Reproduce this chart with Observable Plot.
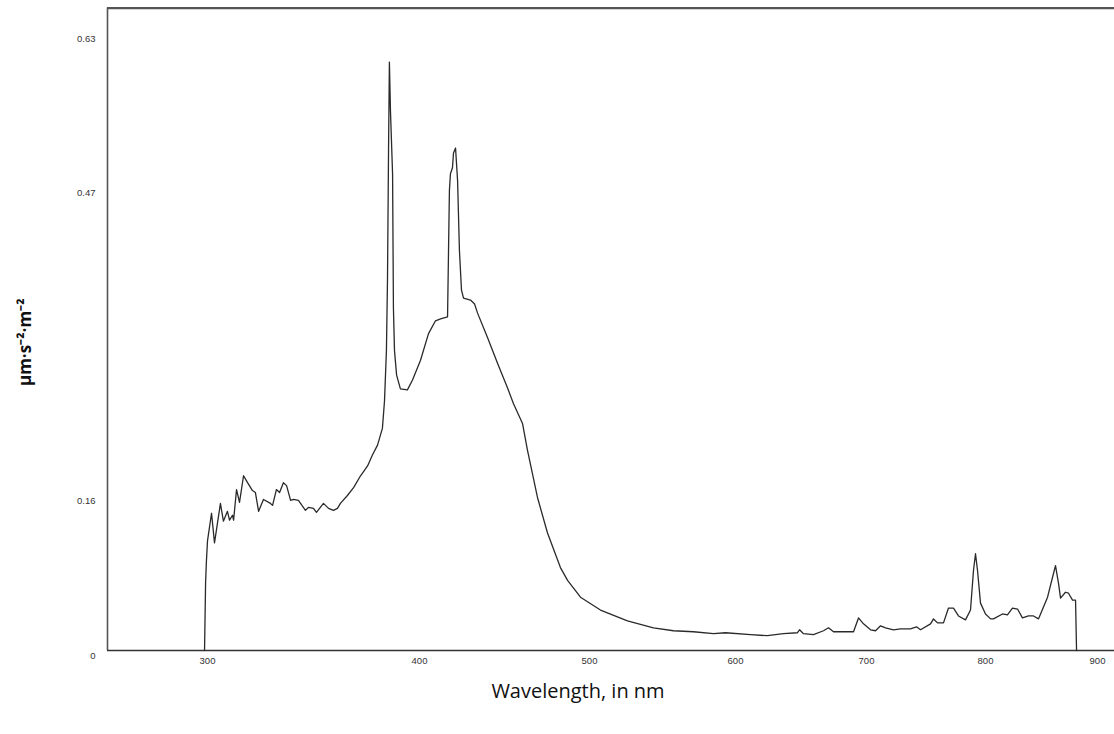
<!DOCTYPE html>
<html>
<head>
<meta charset="utf-8">
<script src="https://cdn.jsdelivr.net/npm/d3@7"></script>
<script src="https://cdn.jsdelivr.net/npm/@observablehq/plot@0.6"></script>
<style>
  html, body { margin: 0; padding: 0; background: #fff; }
  #chart svg { overflow: visible; display: block; }
</style>
</head>
<body>
<div id="chart"></div>
<script>
// Wavelength (nm) of each sample of the spectrum
const wavelength = [
  298.6, 299.1, 299.5, 300.0, 301.9, 303.3, 306.1, 307.5, 309.4, 310.4,
  311.8, 312.3, 313.7, 315.1, 317.0, 318.9, 321.2, 322.6, 324.1, 326.4,
  329.7, 330.7, 332.5, 334.0, 335.8, 337.3, 339.2, 340.6, 342.9, 346.2,
  347.6, 350.0, 351.4, 354.7, 357.1, 359.4, 361.3, 362.7, 366.0, 368.9,
  372.2, 375.5, 377.8, 380.2, 382.5, 383.5, 384.4, 384.9, 385.4, 385.8,
  386.3, 387.3, 387.7, 388.2, 389.2, 391.0, 394.3, 396.7, 400.6, 405.3,
  409.4, 412.4, 416.5, 417.6, 418.2, 419.4, 420.0, 421.2, 422.4, 423.5,
  424.7, 425.9, 430.0, 432.4, 434.1, 440.0, 445.9, 451.8, 455.3, 460.6,
  463.5, 469.4, 475.3, 482.9, 487.1, 494.7, 507.5, 526.0, 543.8, 557.5,
  571.2, 584.9, 593.2, 611.5, 624.4, 636.6, 647.3, 648.9, 651.9, 659.5,
  667.2, 671.0, 674.8, 690.1, 693.9, 697.7, 703.4, 707.6, 711.8, 716.0,
  722.7, 728.6, 737.0, 742.0, 745.4, 753.8, 756.3, 759.7, 764.7, 768.9,
  773.1, 777.3, 783.2, 787.4, 789.9, 791.6, 793.3, 795.8, 800.0, 804.5,
  807.1, 815.2, 819.6, 824.1, 828.6, 833.0, 838.4, 842.9, 847.3, 855.4,
  860.7, 862.5, 865.2, 867.0, 871.4, 874.1, 877.7, 880.4, 881.3
];
// Irradiance (µm·s⁻²·m⁻²) at each wavelength
const irradiance = [
  0.000, 0.069, 0.091, 0.111, 0.139, 0.109, 0.149, 0.131, 0.141, 0.132,
  0.137, 0.132, 0.163, 0.150, 0.177, 0.170, 0.162, 0.160, 0.141, 0.153,
  0.149, 0.147, 0.163, 0.160, 0.170, 0.167, 0.152, 0.153, 0.152, 0.142,
  0.145, 0.144, 0.140, 0.149, 0.144, 0.142, 0.144, 0.149, 0.157, 0.165,
  0.177, 0.187, 0.198, 0.208, 0.225, 0.253, 0.304, 0.375, 0.507, 0.596,
  0.547, 0.483, 0.347, 0.304, 0.279, 0.265, 0.264, 0.274, 0.294, 0.321,
  0.334, 0.336, 0.338, 0.466, 0.483, 0.489, 0.504, 0.509, 0.476, 0.405,
  0.365, 0.357, 0.355, 0.351, 0.342, 0.317, 0.291, 0.266, 0.250, 0.230,
  0.203, 0.155, 0.119, 0.084, 0.071, 0.054, 0.041, 0.030, 0.023, 0.020,
  0.019, 0.017, 0.018, 0.016, 0.015, 0.017, 0.018, 0.021, 0.017, 0.016,
  0.020, 0.023, 0.019, 0.019, 0.033, 0.027, 0.021, 0.020, 0.025, 0.023,
  0.021, 0.022, 0.022, 0.024, 0.021, 0.027, 0.032, 0.028, 0.028, 0.043,
  0.043, 0.035, 0.031, 0.041, 0.081, 0.098, 0.081, 0.048, 0.037, 0.032,
  0.032, 0.037, 0.036, 0.043, 0.042, 0.033, 0.035, 0.035, 0.032, 0.054,
  0.078, 0.086, 0.068, 0.053, 0.059, 0.058, 0.051, 0.051, 0.000
];

const xTicks = [300, 400, 500, 600, 700, 800, 900];
const yTicks = [0, 0.15625, 0.46875, 0.625];
const yTickLabels = ["0", "0.16", "0.47", "0.63"];
const xLabel = "Wavelength, in nm";
const yLabel = "µm·s⁻²·m⁻²";

const spectrum = wavelength.map((w, i) => ({w, v: irradiance[i]}));

// axis extents of the plotting frame
const xMin = 252.8, xMax = 915.2, yTop = 0.6508;

const chart = Plot.plot({
  width: 1114,
  height: 734,
  marginLeft: 107,
  marginRight: 0,
  marginTop: 7.5,
  marginBottom: 84,
  style: {background: "#fff", fontFamily: "'Liberation Sans', Arial, sans-serif"},
  x: {
    type: "linear",
    // the reference axis is unevenly spaced: piecewise-linear scale
    domain: [xMin, 300, 400, 500, 600, 700, 800, 900, xMax],
    range: [107, 207, 419, 589, 735, 866, 985, 1097, 1114]
  },
  y: {type: "linear", domain: [0, 0.625], range: [650, 33]},
  marks: [
    Plot.axisX({ticks: xTicks, tickSize: 0, tickPadding: 7, label: null,
      fontSize: 9.5, fill: "#333", tickFormat: d => String(d)}),
    Plot.axisY({ticks: yTicks, tickSize: 0, tickPadding: 12, label: null,
      fontSize: 9.5, fill: "#333", dy: 5,
      tickFormat: d => yTickLabels[yTicks.indexOf(d)]}),
    Plot.ruleY([yTop], {stroke: "#555", strokeWidth: 2.2}),
    Plot.ruleX([xMin], {stroke: "#555", strokeWidth: 1.6}),
    Plot.ruleY([0], {stroke: "#333", strokeWidth: 1.6}),
    Plot.line(spectrum, {x: "w", y: "v", stroke: "#2a2a2a", strokeWidth: 1.3, strokeLinejoin: "round"}),
    Plot.text([yLabel], {frameAnchor: "left", textAnchor: "middle", rotate: -90, dx: -82, dy: 13,
      fontSize: 17, fontWeight: "bold", fill: "#111", fontFamily: "'Open Sans', sans-serif"}),
    Plot.text([xLabel], {frameAnchor: "bottom", textAnchor: "middle", dx: -33, dy: 47,
      fontSize: 20, fill: "#111", fontFamily: "'Open Sans', sans-serif"})
  ]
});
document.getElementById("chart").appendChild(chart);
</script>
</body>
</html>
